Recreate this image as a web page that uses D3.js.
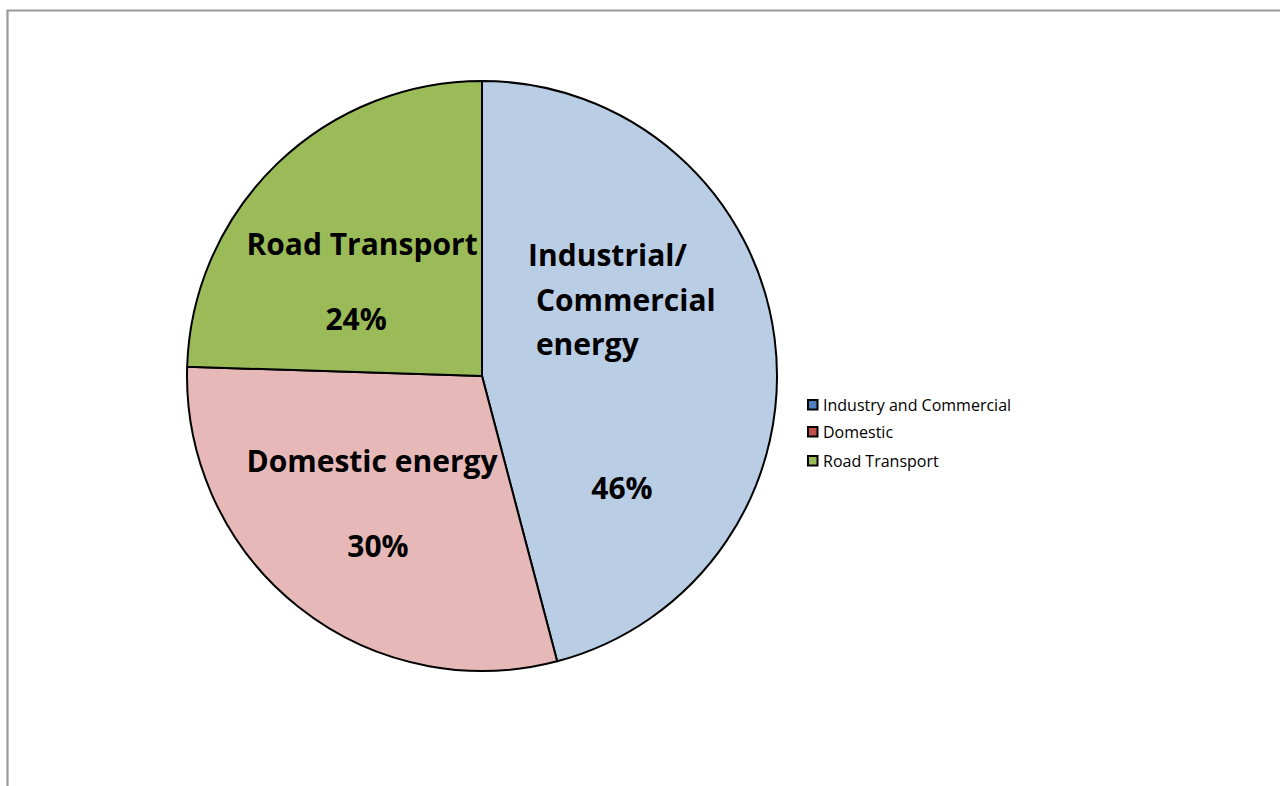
<!DOCTYPE html>
<html>
<head>
<meta charset="utf-8">
<script src="https://cdn.jsdelivr.net/npm/d3@7"></script>
<style>
  body { margin: 0; background: #fff; }
  svg { display: block; }
</style>
</head>
<body>
<svg id="chart" width="1280" height="786"></svg>
<script>
// data
var categories = ["Industry and Commercial", "Domestic", "Road Transport"];
var values = [45.9, 29.6, 24.5];
var pctLabels = ["46%", "30%", "24%"];
var sliceLabels = [["Industrial/", " Commercial", " energy"], ["Domestic energy"], ["Road Transport"]];
var sliceFills = ["#b9cde5", "#e6b9b8", "#9bbb59"];
var legendFills = ["#4f81bd", "#c0504d", "#9bbb59"];

var svg = d3.select("#chart");

// frame round the chart area (runs off right/bottom)
svg.append("path")
	.attr("d", "M7.5,800V10.5H1290")
	.attr("fill", "none")
	.attr("stroke", "#999")
	.attr("stroke-width", 2.2);

var cx = 482, cy = 376, radius = 295;

var pie = d3.pie().sort(null).value(d => d)
var arcs = pie(values);

var arc = d3.arc().innerRadius(0).outerRadius(radius);
var labelArc = d3.arc().innerRadius(0).outerRadius(radius * 1.1);

var g = svg.append("g").attr("transform", `translate(${cx},${cy})`);

g.selectAll("path")
	.data(arcs)
	.join("path")
	.attr("d", arc)
	.attr("fill", (d, i) => sliceFills[i])
	.attr("stroke", "#000")
	.attr("stroke-width", 2)
	.attr("stroke-linejoin", "round");

// nudges off the centroid + where the % line sits, to match Excel's label boxes
var nudges = [[-21, -89], [-8.5, -31], [-7, -4.5]];
var pctOffset = [[0, 233], [5.5, 85], [-6, 75]];
var lineH = 44.5;

var labels = g.selectAll("g.lbl")
	.data(arcs)
	.join("g")
	.attr("class", "lbl")
	.attr("transform", (d, i) => {
		var c = labelArc.centroid(d);
		return `translate(${c[0] + nudges[i][0]},${c[1] + nudges[i][1]})`;
	})
	.style("font-family", "'Open Sans', sans-serif")
	.style("font-weight", "bold")
	.style("font-size", "30px")
	.attr("fill", "#000");

labels.each(function(d, i) {
	var el = d3.select(this);
	var t = el.append("text").style("white-space", "pre");
	sliceLabels[i].forEach((ln, j) => {
		t.append("tspan")
			.attr("x", 0)
			.attr("y", j * lineH)
			.text(ln);
	});
	var bb = t.node().getBBox();
	t.attr("transform", `translate(${-bb.x - bb.width / 2},0)`);

	el.append("text")
		.attr("text-anchor", "middle")
		.attr("x", pctOffset[i][0])
		.attr("y", pctOffset[i][1])
		.text(pctLabels[i]);
});

// legend
var legend = svg.append("g")
	.attr("transform", "translate(808,400)")
	.style("font-family", "'Open Sans', sans-serif")
	.style("font-size", "16px");

var rows = legend.selectAll("g")
	.data(categories)
	.join("g")
	.attr("transform", (d, i) => `translate(0,${[0, 27, 56][i]})`);

rows.append("rect")
	.attr("width", 9.5)
	.attr("height", 9.5)
	.attr("fill", (d, i) => legendFills[i])
	.attr("stroke", "#000")
	.attr("stroke-width", 2);

rows.append("text")
	.attr("x", 15)
	.attr("y", 10.5)
	.attr("fill", "#000")
	.text(d => d);
</script>
</body>
</html>
